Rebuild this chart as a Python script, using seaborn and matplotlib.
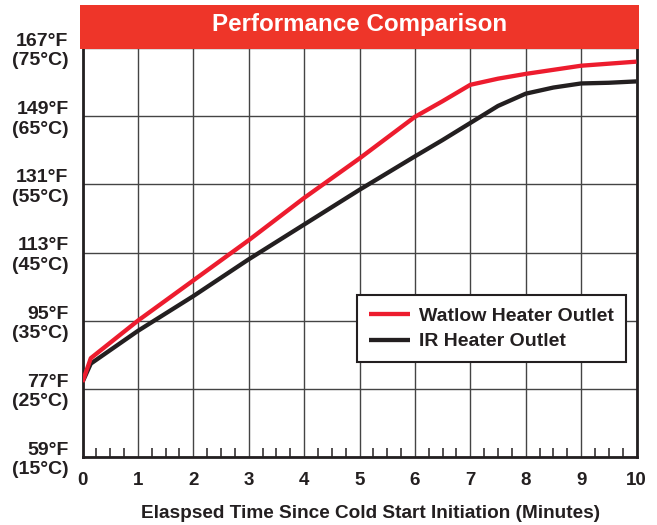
import matplotlib
matplotlib.use("Agg")
import matplotlib.pyplot as plt
from matplotlib.patches import Rectangle
import seaborn as sns
import pandas as pd

# ---- data ----
time_min = [0, 0.15, 1, 2, 3, 4, 5, 6, 6.5, 7, 7.5, 8, 8.5, 9, 9.5, 10]
watlow_c = [26.0, 29.5, 35.0, 40.9, 46.8, 53.0, 58.8, 64.9, 67.2, 69.6, 70.5, 71.2, 71.8, 72.4, 72.7, 73.0]
ir_c = [26.0, 28.7, 33.5, 38.6, 44.0, 49.1, 54.2, 59.1, 61.5, 64.0, 66.5, 68.3, 69.2, 69.8, 69.9, 70.1]
series_names = ["Watlow Heater Outlet", "IR Heater Outlet"]
series_colors = ["#ED1C2E", "#231F20"]
y_ticks_c = [15, 25, 35, 45, 55, 65, 75]
y_tick_labels = ["59°F\n(15°C)", "77°F\n(25°C)", "95°F\n(35°C)", "113°F\n(45°C)",
                 "131°F\n(55°C)", "149°F\n(65°C)", "167°F\n(75°C)"]
x_ticks = list(range(0, 11))
title_text = "Performance Comparison"
x_label = "Elaspsed Time Since Cold Start Initiation (Minutes)"

df = pd.concat([
    pd.DataFrame({"time": time_min, "temp": watlow_c, "series": series_names[0]}),
    pd.DataFrame({"time": time_min, "temp": ir_c, "series": series_names[1]}),
])

sns.set_theme(style="white")
plt.rcParams["font.family"] = ["Liberation Sans", "DejaVu Sans"]
plt.rcParams["font.weight"] = "bold"

W, H = 657, 525
fig = plt.figure(figsize=(W / 100, H / 100), dpi=100)
ax = fig.add_axes([82.5 / W, 1 - 457 / H, (636.5 - 82.5) / W, (457 - 48) / H])

sns.lineplot(data=df, x="time", y="temp", hue="series", hue_order=series_names,
             palette=dict(zip(series_names, series_colors)), linewidth=3.1,
             ax=ax, legend=False)
lines = ax.get_lines()
lines[0].set_zorder(5)
lines[1].set_zorder(4)
for ln in lines:
    ln.set_solid_capstyle("butt")
    ln.set_solid_joinstyle("round")

ax.set_xlim(0, 10)
ax.set_ylim(15, 75)
ax.set_xticks(x_ticks)
ax.set_xticklabels([str(v) for v in x_ticks], fontsize=13.5, fontweight="bold", color="#231F20")
ax.set_xticks([i + f for i in range(10) for f in (0.25, 0.5, 0.75)], minor=True)
ax.set_yticks(y_ticks_c)
ax.set_yticklabels(y_tick_labels, fontsize=14, fontweight="bold", color="#231F20",
                   linespacing=1.18)
ax.tick_params(axis="x", which="major", length=0, pad=11)
ax.tick_params(axis="x", which="minor", direction="in", length=6.5, width=1.1,
               color="#231F20", bottom=True)
ax.tick_params(axis="y", which="major", length=0, pad=10)

ax.grid(True, which="major", color="#444444", linewidth=1.0)
ax.set_axisbelow(True)

for side in ["left", "bottom", "right"]:
    ax.spines[side].set_color("#231F20")
    ax.spines[side].set_linewidth(2.0)
ax.spines["top"].set_visible(False)

ax.set_xlabel(x_label, fontsize=13.7, fontweight="bold", color="#231F20", labelpad=11)
ax.xaxis.label.set_x(0.52)
ax.set_ylabel("")

leg = ax.legend(lines, series_names, loc="lower right", bbox_to_anchor=(0.981, 0.232),
                borderaxespad=0, frameon=True, fancybox=False, framealpha=1,
                prop={"weight": "bold", "size": 14}, handlelength=2.1,
                handletextpad=0.5, labelspacing=0.42, borderpad=0.6)
leg.get_frame().set_edgecolor("#231F20")
leg.get_frame().set_linewidth(1.5)
for t in leg.get_texts():
    t.set_color("#231F20")

# red title band
fig.patches.append(Rectangle((80 / W, 1 - 49 / H), (639 - 80) / W, 44 / H,
                             transform=fig.transFigure, facecolor="#EE3529",
                             edgecolor="none", zorder=10))
fig.text(360 / W, 1 - 25 / H, title_text, ha="center", va="center", color="white",
         fontsize=17.4, fontweight="bold", zorder=11)

fig.savefig("out.png", dpi=100)
